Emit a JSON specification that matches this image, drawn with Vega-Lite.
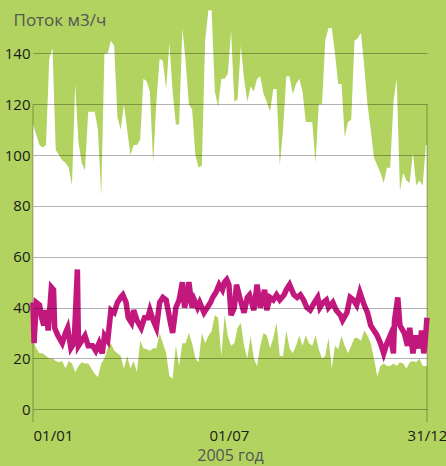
{
  "$schema": "https://vega.github.io/schema/vega-lite/v6.json",
  "width": 394,
  "height": 422,
  "autosize": {"type": "none"},
  "padding": {"left": 33, "top": 0, "right": 19, "bottom": 44},
  "background": "#b2d35f",
  "config": {"view": {"stroke": null}, "font": "Open Sans"},
  "datasets": {
    "band": [
      {"day":0,"hi":112,"lo":27},{"day":3,"hi":108,"lo":24},{"day":6,"hi":104,"lo":22},{"day":9,"hi":103,"lo":22},
      {"day":12,"hi":104,"lo":21},{"day":15,"hi":138,"lo":20},{"day":18,"hi":142,"lo":20},{"day":21,"hi":102,"lo":19},
      {"day":24,"hi":100,"lo":18.5},{"day":27,"hi":98,"lo":19},{"day":30,"hi":97,"lo":16},{"day":33,"hi":95,"lo":19},
      {"day":36,"hi":88,"lo":18},{"day":39,"hi":128,"lo":14.6},{"day":42,"hi":105,"lo":17},{"day":45,"hi":97,"lo":18.5},
      {"day":48,"hi":94,"lo":18},{"day":51,"hi":117,"lo":18},{"day":54,"hi":117,"lo":16},{"day":57,"hi":117,"lo":14},
      {"day":60,"hi":110,"lo":12.6},{"day":63,"hi":84,"lo":18},{"day":66,"hi":140,"lo":20},{"day":69,"hi":140,"lo":24},
      {"day":72,"hi":145,"lo":26},{"day":75,"hi":143,"lo":23},{"day":78,"hi":115,"lo":22},{"day":81,"hi":110,"lo":21},
      {"day":84,"hi":120,"lo":16},{"day":87,"hi":110,"lo":21},{"day":90,"hi":100,"lo":16},{"day":93,"hi":104,"lo":19},
      {"day":96,"hi":104,"lo":14.6},{"day":99,"hi":106,"lo":27},{"day":102,"hi":130,"lo":24},{"day":105,"hi":129,"lo":23.6},
      {"day":108,"hi":125,"lo":23},{"day":111,"hi":97,"lo":24},{"day":114,"hi":121,"lo":24},{"day":117,"hi":138,"lo":30},
      {"day":120,"hi":137,"lo":26},{"day":123,"hi":126,"lo":22},{"day":126,"hi":144,"lo":13},{"day":129,"hi":125,"lo":12},
      {"day":132,"hi":112,"lo":25},{"day":135,"hi":112,"lo":17},{"day":138,"hi":150,"lo":26},{"day":141,"hi":137,"lo":26},
      {"day":144,"hi":120,"lo":30},{"day":147,"hi":118,"lo":26},{"day":150,"hi":100,"lo":20},{"day":153,"hi":95,"lo":18.5},
      {"day":156,"hi":96,"lo":30},{"day":159,"hi":145,"lo":26},{"day":162,"hi":157,"lo":28.8},{"day":165,"hi":157,"lo":30.7},
      {"day":168,"hi":125,"lo":37},{"day":171,"hi":119,"lo":36},{"day":174,"hi":130,"lo":21},{"day":177,"hi":130,"lo":37},
      {"day":180,"hi":132,"lo":28.8},{"day":183,"hi":149,"lo":25},{"day":186,"hi":121,"lo":26},{"day":189,"hi":122,"lo":32},
      {"day":192,"hi":143,"lo":34},{"day":195,"hi":130,"lo":25},{"day":198,"hi":121,"lo":20},{"day":201,"hi":127,"lo":28.8},
      {"day":204,"hi":125,"lo":20},{"day":207,"hi":130,"lo":17},{"day":210,"hi":131,"lo":25},{"day":213,"hi":124,"lo":30},
      {"day":216,"hi":121,"lo":29},{"day":219,"hi":117,"lo":24},{"day":222,"hi":126,"lo":28},{"day":225,"hi":126,"lo":34},
      {"day":228,"hi":96,"lo":21},{"day":231,"hi":110,"lo":21},{"day":234,"hi":131,"lo":31},{"day":237,"hi":131,"lo":24},
      {"day":240,"hi":124,"lo":22},{"day":243,"hi":128,"lo":25},{"day":246,"hi":130,"lo":29},{"day":249,"hi":125,"lo":25},
      {"day":252,"hi":113,"lo":29},{"day":255,"hi":113,"lo":26},{"day":258,"hi":113,"lo":25},{"day":261,"hi":97,"lo":29},
      {"day":264,"hi":120,"lo":23.6},{"day":267,"hi":120,"lo":20},{"day":270,"hi":145,"lo":21},{"day":273,"hi":150,"lo":28},
      {"day":276,"hi":150,"lo":16},{"day":279,"hi":140,"lo":25},{"day":282,"hi":128,"lo":23.6},{"day":285,"hi":128,"lo":28.8},
      {"day":288,"hi":107,"lo":25},{"day":291,"hi":113,"lo":22},{"day":294,"hi":114,"lo":25},{"day":297,"hi":145,"lo":28},
      {"day":300,"hi":146,"lo":28},{"day":303,"hi":148,"lo":27},{"day":306,"hi":135,"lo":31},{"day":309,"hi":120,"lo":29},
      {"day":312,"hi":110,"lo":26},{"day":315,"hi":99,"lo":20},{"day":318,"hi":96,"lo":13},{"day":321,"hi":93,"lo":17},
      {"day":324,"hi":89,"lo":18},{"day":327,"hi":95,"lo":17},{"day":330,"hi":95,"lo":17},{"day":333,"hi":121,"lo":18},
      {"day":336,"hi":130,"lo":17},{"day":339,"hi":86,"lo":18.5},{"day":342,"hi":93,"lo":18},{"day":345,"hi":90,"lo":16},
      {"day":348,"hi":89,"lo":18.5},{"day":351,"hi":101,"lo":19},{"day":354,"hi":88,"lo":18.5},{"day":357,"hi":90,"lo":20},
      {"day":360,"hi":88,"lo":17},{"day":363,"hi":104,"lo":17},{"day":364,"hi":104,"lo":17}
    ],
    "flow": [
      {"day":0,"flow":42},{"day":1,"flow":26},{"day":3,"flow":42},{"day":6,"flow":41},{"day":8,"flow":36},{"day":10,"flow":33},
      {"day":12,"flow":39},{"day":14,"flow":31},{"day":17,"flow":48},{"day":19,"flow":47},{"day":20,"flow":32},{"day":23,"flow":29},
      {"day":27,"flow":26},{"day":30,"flow":30},{"day":32,"flow":32},{"day":35,"flow":24},{"day":38,"flow":26},{"day":41,"flow":55},
      {"day":42,"flow":25},{"day":45,"flow":27},{"day":48,"flow":29},{"day":51,"flow":25},{"day":55,"flow":25},{"day":58,"flow":23},
      {"day":61,"flow":26},{"day":64,"flow":22},{"day":66,"flow":29},{"day":69,"flow":27},{"day":72,"flow":39},{"day":75,"flow":38},
      {"day":78,"flow":42},{"day":81,"flow":44},{"day":83,"flow":45},{"day":86,"flow":42},{"day":88,"flow":36},{"day":91,"flow":34},
      {"day":93,"flow":39},{"day":96,"flow":35},{"day":100,"flow":32},{"day":103,"flow":36},{"day":106,"flow":36},{"day":108,"flow":39},
      {"day":111,"flow":35},{"day":114,"flow":32},{"day":117,"flow":42},{"day":120,"flow":44},{"day":123,"flow":43},{"day":127,"flow":34},
      {"day":129,"flow":30},{"day":132,"flow":40},{"day":135,"flow":43},{"day":138,"flow":50},{"day":140,"flow":40},{"day":142,"flow":43},
      {"day":144,"flow":50},{"day":147,"flow":40},{"day":149,"flow":43},{"day":152,"flow":40},{"day":154,"flow":42},{"day":158,"flow":38},
      {"day":161,"flow":40},{"day":164,"flow":42},{"day":166,"flow":44},{"day":169,"flow":46},{"day":172,"flow":49},{"day":175,"flow":47},
      {"day":177,"flow":50},{"day":179,"flow":51},{"day":181,"flow":49},{"day":183,"flow":37},{"day":186,"flow":40},{"day":188,"flow":49},
      {"day":191,"flow":44},{"day":195,"flow":38},{"day":198,"flow":44},{"day":200,"flow":45},{"day":204,"flow":39},{"day":207,"flow":49},
      {"day":210,"flow":40},{"day":214,"flow":47},{"day":216,"flow":39},{"day":219,"flow":44},{"day":222,"flow":43},{"day":225,"flow":45},
      {"day":228,"flow":43},{"day":232,"flow":45},{"day":234,"flow":47},{"day":237,"flow":49},{"day":241,"flow":45},{"day":244,"flow":44},
      {"day":247,"flow":45},{"day":250,"flow":43},{"day":253,"flow":40},{"day":256,"flow":39},{"day":260,"flow":42},{"day":263,"flow":44},
      {"day":265,"flow":40},{"day":268,"flow":42},{"day":271,"flow":43},{"day":273,"flow":40},{"day":277,"flow":42},{"day":280,"flow":39},
      {"day":284,"flow":37},{"day":286,"flow":35},{"day":290,"flow":38},{"day":293,"flow":44},{"day":296,"flow":43},{"day":299,"flow":41},
      {"day":302,"flow":46},{"day":306,"flow":41},{"day":309,"flow":38},{"day":312,"flow":33},{"day":315,"flow":31},{"day":318,"flow":29},
      {"day":321,"flow":26},{"day":324,"flow":22},{"day":327,"flow":26},{"day":330,"flow":29},{"day":333,"flow":22},{"day":334,"flow":35},
      {"day":337,"flow":44},{"day":339,"flow":33},{"day":343,"flow":30},{"day":346,"flow":25},{"day":348,"flow":32},{"day":351,"flow":22},
      {"day":354,"flow":29},{"day":357,"flow":24},{"day":359,"flow":31},{"day":361,"flow":22},{"day":362,"flow":25},{"day":364,"flow":36}
    ],
    "frame": [{"day":0},{"day":364}]
  },
  "encoding": {
    "x": {
      "field": "day", "type": "quantitative",
      "scale": {"domain": [0, 364], "nice": false, "zero": false},
      "axis": {
        "values": [0, 181, 364],
        "labelExpr": "datum.value == 0 ? '01/01' : datum.value == 181 ? '01/07' : '31/12'",
        "labelFlush": false,
        "labelAlign": {"condition": {"test": "datum.value == 0", "value": "left"}, "value": "center"},
        "grid": false, "ticks": false, "domain": false,
        "labelPadding": 6, "labelFontSize": 15, "labelColor": "#1a1a1a", "labelFont": "Open Sans",
        "title": "2005 год", "titleFontSize": 16, "titleFontWeight": "normal", "titleColor": "#555555",
        "titleFont": "Open Sans", "titlePadding": 4
      }
    }
  },
  "resolve": {"scale": {"y": "shared"}},
  "layer": [
    {
      "data": {"name": "band"},
      "mark": {"type": "area", "color": "#ffffff", "opacity": 1},
      "encoding": {
        "y": {
          "field": "hi", "type": "quantitative",
          "scale": {"domain": [-5, 161], "nice": false, "zero": false},
          "axis": {
            "values": [0, 20, 40, 60, 80, 100, 120, 140],
            "grid": true, "gridColor": "#000000", "gridOpacity": 0.3, "gridWidth": 1,
            "domain": false, "ticks": false,
            "labelPadding": 3, "labelFontSize": 15, "labelColor": "#1a1a1a", "labelFont": "Open Sans",
            "title": "Поток м3/ч", "titleAngle": 0, "titleAlign": "left", "titleBaseline": "alphabetic",
            "titleX": -20, "titleY": 25, "titleFontSize": 17, "titleFontWeight": "normal",
            "titleColor": "#555555", "titleFont": "Open Sans",
            "zindex": 1
          }
        },
        "y2": {"field": "lo"}
      }
    },
    {
      "data": {"name": "frame"},
      "mark": {"type": "rule", "color": "#000000", "opacity": 0.3, "strokeWidth": 1},
      "encoding": {
        "y": {"datum": 120, "type": "quantitative"},
        "y2": {"datum": -5}
      }
    },
    {
      "data": {"name": "flow"},
      "mark": {"type": "line", "color": "#c2187e", "strokeWidth": 5.5, "strokeJoin": "miter"},
      "encoding": {
        "y": {"field": "flow", "type": "quantitative", "title": "Поток м3/ч"}
      }
    }
  ]
}
